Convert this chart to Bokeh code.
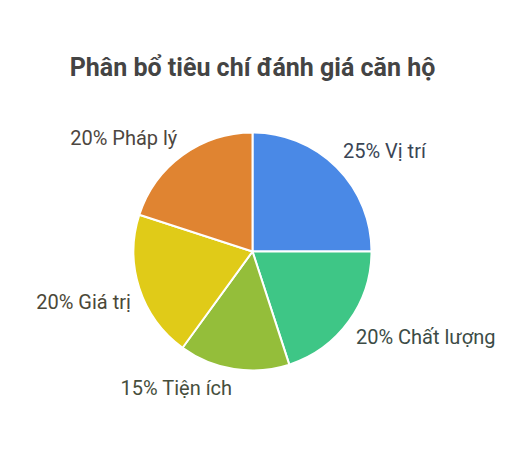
import math
from bokeh.plotting import figure
from bokeh.models import ColumnDataSource
from bokeh.core.properties import value
from bokeh.embed import file_html
from bokeh.resources import INLINE

title_text = "Phân bổ tiêu chí đánh giá căn hộ"
categories = ["Vị trí", "Chất lượng", "Tiện ích", "Giá trị", "Pháp lý"]
percents = [25, 20, 15, 20, 20]
colors = ["#4a89e6", "#3ec686", "#94be3a", "#e0cb18", "#e08431"]
label_colors = ["#3a4555", "#3c4c46", "#464e3c", "#4b4838", "#4d4640"]

W, H = 506, 433
cx, cy, r = 252, 182, 119

total = sum(percents)
starts, ends, lx, ly, labels, aligns, baselines = [], [], [], [], [], [], []
cum = 0
for cat, v in zip(categories, percents):
    a0 = cum / total
    cum += v
    a1 = cum / total
    starts.append(math.pi / 2 - a0 * 2 * math.pi)
    ends.append(math.pi / 2 - a1 * 2 * math.pi)
    mid = (a0 + a1) / 2 * 2 * math.pi
    s, c = math.sin(mid), math.cos(mid)
    lx.append(cx + 1.075 * r * s)
    ly.append(cy + 1.075 * r * c + (-2 if c > 0 else 1.5))
    aligns.append("left" if s > 0 else "right")
    baselines.append("bottom" if c > 0 else "top")
    labels.append(f"{v}% {cat}")

src = ColumnDataSource(dict(start=starts, end=ends, color=colors))
lsrc = ColumnDataSource(dict(x=lx, y=ly, text=labels, align=aligns,
                             baseline=baselines, color=label_colors))

p = figure(width=W, height=H, x_range=(0, W), y_range=(0, H),
           output_backend="svg", toolbar_location=None, min_border=0)
p.axis.visible = False
p.grid.visible = False
p.outline_line_color = None

p.wedge(x=cx, y=cy, radius=r, start_angle="start", end_angle="end",
        direction="clock", fill_color="color", line_color="white",
        line_width=2, source=src)

p.text(x="x", y="y", text="text", text_align="align", text_baseline="baseline",
       text_color="color", text_font=value("Roboto"), text_font_size="20px",
       source=lsrc)

p.text(x=[252], y=[366], text=[title_text], text_align="center",
       text_baseline="middle", text_color="#444444", text_font=value("Roboto"),
       text_font_style="bold", text_font_size="25px")

open("out.html", "w").write(file_html(p, INLINE))
